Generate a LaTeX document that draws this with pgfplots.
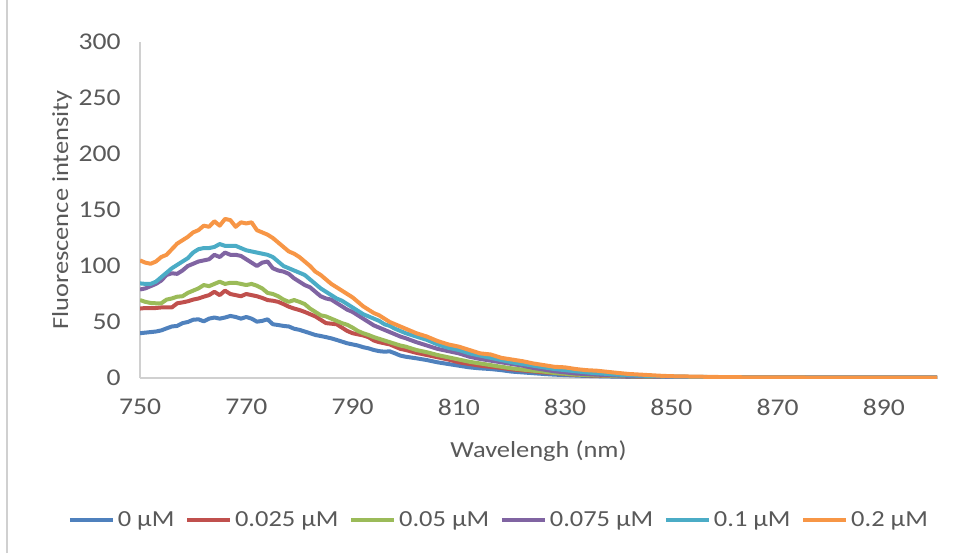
\documentclass[border=0pt]{standalone}
\usepackage{pgfplots}
\pgfplotsset{compat=1.18}
\usepackage{fontspec}
\setmainfont{Carlito}[FakeStretch=1.15]
\definecolor{cA}{HTML}{4F81BD}
\definecolor{cB}{HTML}{C0504D}
\definecolor{cC}{HTML}{9BBB59}
\definecolor{cD}{HTML}{8064A2}
\definecolor{cE}{HTML}{4BACC6}
\definecolor{cF}{HTML}{F79646}
\definecolor{txt}{HTML}{595959}
\definecolor{axl}{HTML}{D0D0D0}
\begin{document}
\begin{tikzpicture}[x=0.75pt,y=0.75pt]
\useasboundingbox (0,0) rectangle (970,553);
\draw[draw=axl, line width=1pt] (7,0) -- (7,553);
\begin{axis}[
  at={(105pt,131.25pt)}, anchor=south west, scale only axis,
  width=597.75pt, height=252pt,
  xmin=750, xmax=900, ymin=0, ymax=300,
  xtick={750,770,...,890}, ytick={0,50,...,300},
  axis lines=left, axis line style={-, draw=axl, line width=1.1pt},
  major tick length=0pt,
  /pgf/number format/assume math mode=true,
  tick label style={font=\fontsize{18}{22}\selectfont, text=txt},
  yticklabel style={xshift=-11pt},
  xticklabel style={yshift=-12pt},
  every axis plot/.append style={line width=3pt, line join=round, no markers},
  legend columns=6,
  legend style={at={(0.449,-0.4226)}, anchor=center, draw=none, fill=none,
    font=\fontsize{17.25}{20}\selectfont, text=txt,
    nodes={inner sep=0pt},
    /tikz/every odd column/.append style={column sep=2.5pt},
    /tikz/every even column/.append style={column sep=8pt},
    inner sep=0pt},
  legend image code/.code={\draw[#1, line width=3pt] (0pt,0pt) -- (32pt,0pt);},
]
\addplot[cA] table {
750 40
751 40.5
752 41
753 41.5
754 42.5
755 44.3
756 46
757 46.5
758 49
759 50
760 52
761 52.4
762 50.6
763 53
764 54
765 53
766 54
767 55.4
768 54.5
769 53
770 54.5
771 53
772 50.3
773 51
774 52.4
775 48
776 47.3
777 46.5
778 46
779 44
780 43
781 41.5
782 40
783 38.4
784 37.5
785 36.5
786 35.4
787 34
788 32.5
789 31
790 30
791 29
792 27.5
793 26.5
794 25
795 24
796 23.5
797 23.8
798 22
799 20
800 19
802 17.6
804 16
806 14
808 12.5
810 11
812 9.5
814 8.6
816 8
818 7
820 5.7
822 5
824 4.3
826 3.6
828 3
830 2.6
833 2
836 1.6
840 1.2
845 0.9
850 0.7
860 0.5
870 0.4
880 0.3
890 0.3
900 0.3
};
\addlegendentry{0 µM}
\addplot[cB] table {
750 62
751 62.5
752 62.5
753 62.5
754 63
755 63
756 63
757 66.7
758 67.5
759 68.5
760 70
761 71
762 72.6
763 74
764 77
765 74
766 78
767 75
768 74
769 73
770 75
771 74
772 73
773 71.5
774 69.6
775 69
776 68
777 66
778 63.7
779 62
780 60.7
781 59
782 57
783 55
784 52
785 49
786 48.5
787 48
788 45
789 42
790 40
791 39
792 38
793 36.5
794 33.5
795 32
796 31
797 30
798 28
799 26
800 25
802 22.5
804 20.5
806 18.5
808 16.5
810 14
812 12.5
814 11
816 10
818 9
820 7.7
822 6.8
824 6
826 5
828 4.5
830 3.5
832 2.8
835 2.2
840 1.6
845 1.2
850 0.9
860 0.6
870 0.5
880 0.4
890 0.3
900 0.3
};
\addlegendentry{0.025 µM}
\addplot[cC] table {
750 69.6
751 68
752 67
753 66.7
754 66.7
755 70
756 71
757 72.6
758 73
759 76
760 78
761 80
762 83
763 82
764 84
765 86
766 84
767 85
768 85
769 84
770 83
771 84
772 82.4
773 80
774 76
775 75
776 73
777 70
778 68
779 69.6
780 68
781 66
782 62
783 59
784 56
785 55
786 53
787 51
788 49
789 47.5
790 45
791 42
792 40
793 38.4
794 36.5
795 35
796 33.5
797 32
798 30.5
799 29
800 28
802 25
804 23
806 20.5
808 18.5
810 16.5
812 14.5
814 13
816 11.5
818 10
820 8.6
822 7.5
824 6.5
826 5.7
828 4.5
830 3.8
832 3
835 2.5
840 1.8
845 1.3
850 1
860 0.6
870 0.5
880 0.4
890 0.3
900 0.3
};
\addlegendentry{0.05 µM}
\addplot[cD] table {
750 79
751 80
752 82
753 84
754 87
755 92
756 93.5
757 93
758 96
759 100
760 102
761 104
762 105
763 106
764 110
765 108
766 112
767 110
768 110
769 109
770 106
771 103
772 100
773 103
774 104
775 98
776 96
777 95
778 93
779 89
780 86
781 83
782 81
783 77
784 73
785 71
786 70
787 67
788 64
789 61
790 59
791 56
792 53
793 50
794 47
795 45
796 43
797 41
798 39
799 37
800 35.5
802 32
804 29
806 26
808 24
810 22
812 19
814 17
816 15.5
818 14
820 12.5
822 11
824 9
826 7.5
828 6
830 5
832 4
834 3.5
836 3
840 2.2
845 1.5
850 1
860 0.6
870 0.5
880 0.4
890 0.3
900 0.3
};
\addlegendentry{0.075 µM}
\addplot[cE] table {
750 84.5
751 84
752 84
753 86
754 90
755 94
756 98
757 101
758 104
759 107
760 112
761 115
762 116
763 116
764 117
765 119.6
766 118
767 118
768 118
769 116
770 114
771 113
772 112
773 111
774 110
775 108
776 104
777 100
778 98
779 96
780 94
781 92
782 88
783 84
784 80
785 77
786 74
787 71
788 69
789 66
790 63
791 60
792 57
793 55
794 53
795 51
796 48
797 46.5
798 44
799 42
800 40
802 37
804 34
806 30
808 27
810 25
812 22
814 20
816 18
818 16
820 14
822 12.5
824 11
826 9.5
828 8
830 7
832 6
834 5
836 4.2
838 3.6
840 3
842 2.4
845 2
850 1.3
855 1
860 0.7
870 0.5
880 0.4
890 0.3
900 0.3
};
\addlegendentry{0.1 µM}
\addplot[cF] table {
750 105
751 103
752 102
753 104
754 108
755 110
756 115
757 120
758 123
759 126
760 130
761 132
762 136
763 135
764 140
765 136
766 142
767 141
768 135
769 139
770 138
771 139
772 132
773 130
774 128
775 125
776 121
777 117
778 113
779 111
780 108
781 104
782 100
783 95
784 92
785 88
786 84
787 81
788 78
789 75
790 72
791 68
792 64
793 61
794 58
795 56
796 53
797 50
798 48
799 46
800 44
802 40
804 37
806 33
808 30
810 28
812 25
814 22
816 21
818 18
820 16.5
822 15
824 13
826 11.5
828 10
830 9.5
832 8
834 7
836 6.5
838 5.5
840 4.5
842 3.6
845 2.8
848 2
850 1.6
855 1.2
860 0.8
865 0.6
870 0.5
880 0.4
890 0.3
900 0.3
};
\addlegendentry{0.2 µM}
\end{axis}
\node[rotate=90, anchor=base, text=txt, font=\fontsize{17.25}{20}\selectfont] at (68,343) {Fluorescence intensity};
\node[anchor=base, text=txt, font=\fontsize{17.25}{20}\selectfont] at (538.5,95) {Wavelengh (nm)};
\end{tikzpicture}
\end{document}
